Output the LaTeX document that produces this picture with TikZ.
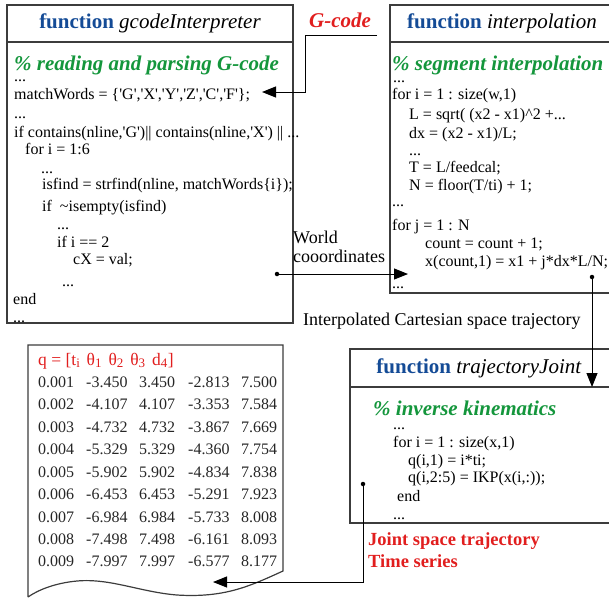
\documentclass[tikz,border=0pt]{standalone}
\usepackage{fontspec}
\setmainfont{Liberation Serif}[Ligatures=TeXOff]
\usetikzlibrary{arrows.meta}
\definecolor{fblue}{RGB}{20,75,150}
\definecolor{cgreen}{RGB}{20,150,60}
\definecolor{lred}{RGB}{225,30,30}
\definecolor{boxgray}{RGB}{60,60,60}
\tikzset{
  code/.style={anchor=base west, inner sep=0pt, font=\fontsize{16}{18}\selectfont},
  num/.style={anchor=base west, inner sep=0pt, font=\fontsize{16}{18}\selectfont, text=black!85},
  head/.style={anchor=base, inner sep=0pt, font=\fontsize{21}{24}\selectfont},
  cmt/.style={anchor=base west, inner sep=0pt, font=\fontsize{21}{24}\selectfont\bfseries\itshape, text=cgreen},
  lbl/.style={anchor=base west, inner sep=0pt, font=\fontsize{18}{20}\selectfont},
  redlbl/.style={anchor=base west, inner sep=0pt, font=\fontsize{18.5}{20}\selectfont\bfseries, text=lred},
  boxline/.style={draw=boxgray, line width=1.5pt},
  arr/.style={draw=black, line width=1pt, -{Triangle[length=14pt,width=11pt]}},
  dotmark/.style={circle, fill=black, inner sep=0pt, minimum size=4.5pt},
}
\newcommand{\fn}[1]{{\bfseries\color{fblue}function} \textit{#1}}
\newcommand{\sbx}[1]{\textsubscript{\fontsize{13}{14}\selectfont #1}}
\begin{document}
\begin{tikzpicture}[x=1pt,y=-1pt]
\useasboundingbox (0,0) rectangle (609,598);
\clip (0,0) rectangle (609,598);
% ---------- box 1 ----------
\draw[boxline] (7,5) rectangle (293,323);
\draw[boxline] (7,42) -- (293,42);
\node[head] (h1) at (150,28) {\fn{gcodeInterpreter}};
\node[cmt] (c1) at (14,70) {\% reading and parsing G-code};
\node[code] (a1) at (14,81) {...};
\node[code] (a2) at (14,99) {matchWords = \{'G','X','Y','Z','C','F'\};};
\node[code] (a3) at (14,118) {...};
\node[code] (a4) at (14,137) {if contains(nline,'G')\textbar\textbar\ contains(nline,'X') \textbar\textbar\ ...};
\node[code] (a5) at (25,154) {for i = 1:6};
\node[code] (a6) at (41,173) {...};
\node[code] (a7) at (42,189) {isfind = strfind(nline, matchWords\{i\});};
\node[code] (a8) at (42,211) {if \ \textasciitilde isempty(isfind)};
\node[code] (a9) at (57,229) {...};
\node[code] (a10) at (57,247) {if i == 2};
\node[code] (a11) at (73,264) {cX = val;};
\node[code] (a12) at (62,286) {...};
\node[code] (a13) at (13,304) {end};
\node[code] (a14) at (13,322) {...};
% ---------- box 2 ----------
\draw[boxline] (390,5) rectangle (615,293);
\draw[boxline] (390,42) -- (615,42);
\node[head] (h2) at (502,28) {\fn{interpolation}};
\node[cmt] (c2) at (392,70) {\% segment interpolation};
\node[code] (b1) at (393,82) {...};
\node[code] (b2) at (392,99) {for i = 1 : size(w,1)};
\node[code] (b3) at (409,119) {L = sqrt( (x2 - x1)\textasciicircum 2 +...};
\node[code] (b4) at (409,138) {dx = (x2 - x1)/L;};
\node[code] (b5) at (409,155) {...};
\node[code] (b6) at (409,172) {T = L/feedcal;};
\node[code] (b7) at (409,190) {N = floor(T/ti) + 1;};
\node[code] (b8) at (392,206) {...};
\node[code] (b9) at (392,230) {for j = 1 : N};
\node[code] (b10) at (425,248) {count = count + 1;};
\node[code] (b11) at (425,266) {x(count,1) = x1 + j*dx*L/N;};
\node[code] (b12) at (392,288) {...};
% ---------- box 3 ----------
\draw[boxline] (350,349) rectangle (615,523);
\draw[boxline] (350,387) -- (615,387);
\node[head] (h3) at (479,373) {\fn{trajectoryJoint}};
\node[cmt] (c3) at (373,415) {\% inverse kinematics};
\node[code] (d1) at (393,429) {...};
\node[code] (d2) at (393,447) {for i = 1 : size(x,1)};
\node[code] (d3) at (408,465) {q(i,1) = i*ti;};
\node[code] (d4) at (408,482) {q(i,2:5) = IKP(x(i,:));};
\node[code] (d5) at (397,501) {end};
\node[code] (d6) at (393,519) {...};
% ---------- data sheet ----------
\draw[boxline, line width=1.2pt] (28,597) -- (28,345) -- (283,345) -- (283,571)
  .. controls (250,586) and (225,598) .. (177,595)
  .. controls (140,592) and (110,578) .. (77,581)
  .. controls (55,583) and (38,590) .. (28,597);
\node[anchor=base west, inner sep=0pt, font=\fontsize{17.5}{18}\selectfont, text=lred] (qh) at (38,365)
  {q = [t\sbx{i}\hspace{2pt} θ\sbx{1}\hspace{2pt} θ\sbx{2}\hspace{2pt} θ\sbx{3}\hspace{2pt} d\sbx{4}]};
\foreach \r/\t/\u/\v/\w/\z [count=\k] in {
  387/0.001/-3.450/3.450/-2.813/7.500,
  409/0.002/-4.107/4.107/-3.353/7.584,
  432/0.003/-4.732/4.732/-3.867/7.669,
  454/0.004/-5.329/5.329/-4.360/7.754,
  477/0.005/-5.902/5.902/-4.834/7.838,
  499/0.006/-6.453/6.453/-5.291/7.923,
  522/0.007/-6.984/6.984/-5.733/8.008,
  544/0.008/-7.498/7.498/-6.161/8.093,
  566/0.009/-7.997/7.997/-6.577/8.177}{
  \node[num] (r\k c1) at (38,\r) {\t};
  \node[num] (r\k c2) at (86,\r) {\u};
  \node[num] (r\k c3) at (139,\r) {\v};
  \node[num] (r\k c4) at (188,\r) {\w};
  \node[num] (r\k c5) at (241,\r) {\z};
}
% ---------- labels ----------
\node[anchor=base west, inner sep=0pt, font=\fontsize{21}{24}\selectfont\bfseries\itshape, text=lred] (gl) at (309,27) {G-code};
\node[lbl] (w1) at (293,243) {World};
\node[lbl] (w2) at (293,262) {cooordinates};
\node[lbl] (il) at (303,325) {Interpolated Cartesian space trajectory};
\node[redlbl] (j1) at (368,545) {Joint space trajectory};
\node[redlbl] (j2) at (368,567) {Time series};
% ---------- connectors ----------
\coordinate (gs) at (377,35);
\coordinate (gt) at (262,92);
\draw[arr] (gs) -- (305,35) -- (305,92) -- (gt);
\node[dotmark] (wd) at (277,274) {};
\coordinate (wt) at (408,274);
\draw[arr] (wd.center) -- (wt);
\node[dotmark] (id) at (592,277) {};
\coordinate (it) at (592,387);
\draw[arr] (id.center) -- (it);
\node[dotmark] (jd) at (363,484) {};
\coordinate (jt) at (213,582);
\draw[arr] (jd.center) -- (363,582) -- (jt);
\end{tikzpicture}
\end{document}
